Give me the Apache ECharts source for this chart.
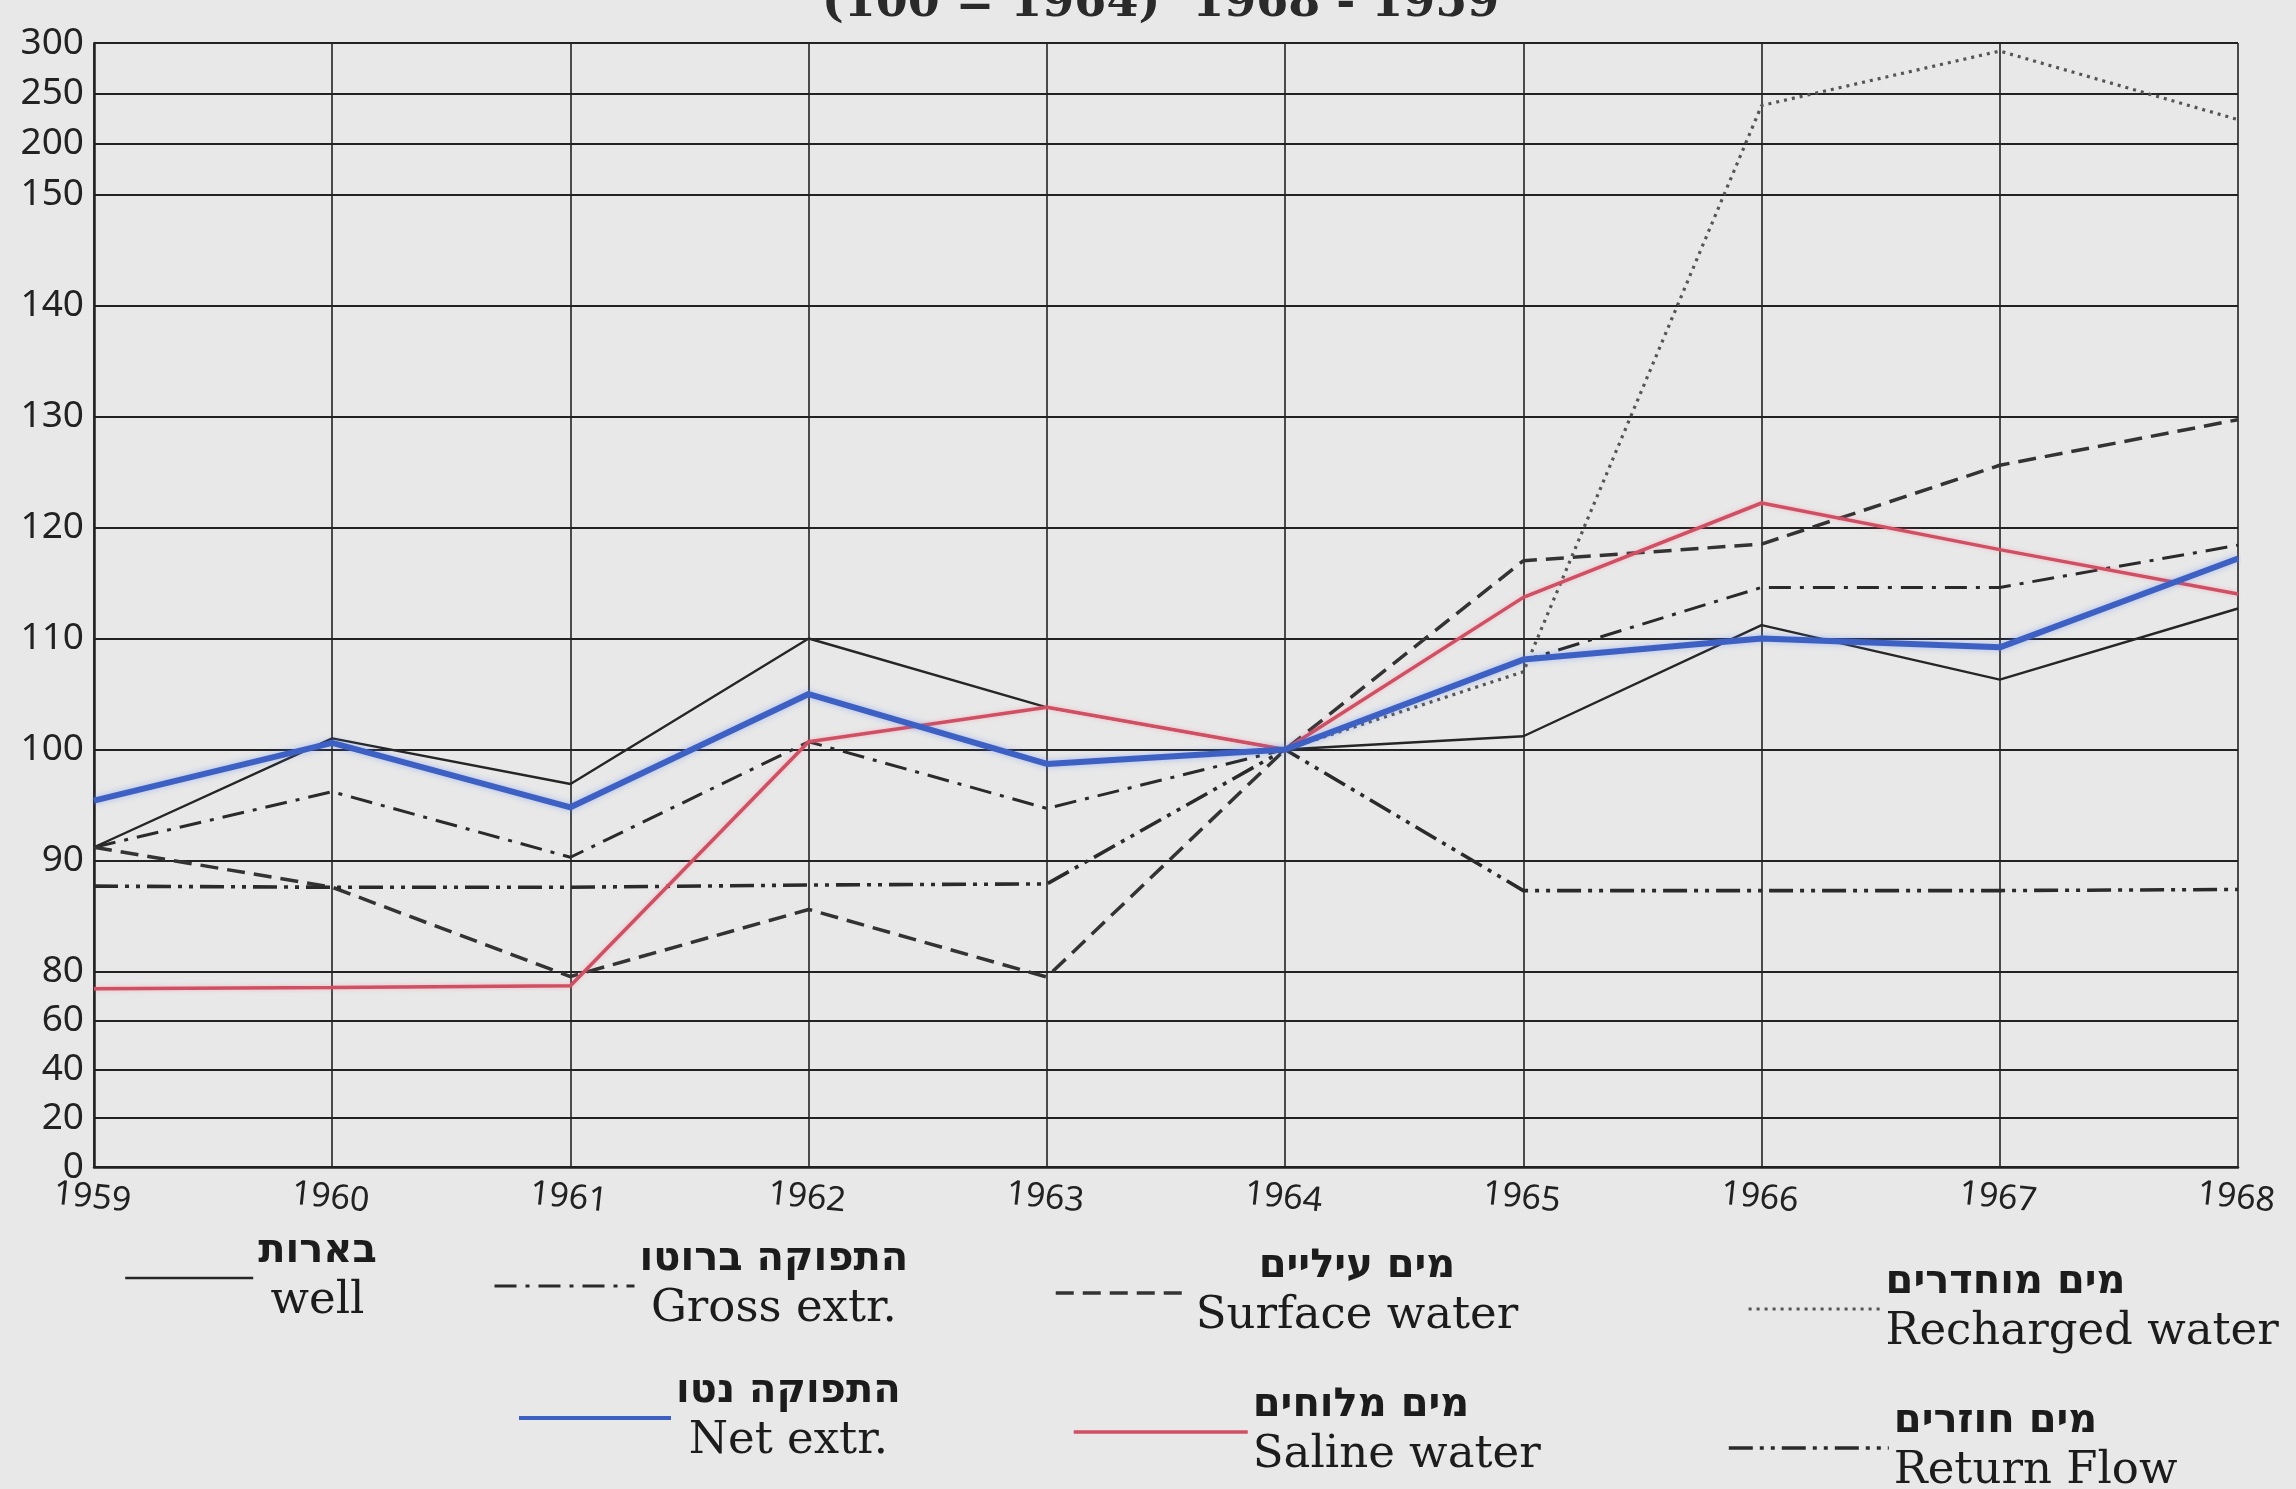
<!DOCTYPE html>
<html>
<head>
<meta charset="utf-8">
<script src="https://cdn.jsdelivr.net/npm/echarts@6/dist/echarts.min.js"></script>
<style>
html,body{margin:0;padding:0;background:#e8e8e8;}
#c{width:2296px;height:1489px;}
</style>
</head>
<body>
<div id="c"></div>
<script>
// ---------- data (index, 1964 = 100) ----------
const years = ['1959','1960','1961','1962','1963','1964','1965','1966','1967','1968'];
const well           = [91.2, 101.0, 96.9, 110.0, 103.8, 100, 101.2, 111.2, 106.3, 112.7];
const grossExtr      = [91.2, 96.2, 90.3, 100.7, 94.7, 100, 108.0, 114.6, 114.6, 118.4];
const surfaceWater   = [91.2, 87.6, 78.0, 85.6, 77.8, 100, 117.0, 118.5, 125.6, 129.7];
const rechargedWater = [null, null, null, null, null, 100, 107.0, 238, 292, 224];
const netExtr        = [95.4, 100.6, 94.8, 105.0, 98.7, 100, 108.1, 110.0, 109.2, 117.2];
const salineWater    = [73.0, 73.5, 74.2, 100.7, 103.8, 100, 113.7, 122.2, 118.0, 114.0];
const returnFlow     = [87.7, 87.6, 87.6, 87.8, 87.9, 100, 87.3, 87.3, 87.3, 87.4];
const yTicks = [0, 20, 40, 60, 80, 90, 100, 110, 120, 130, 140, 150, 200, 250, 300];
const titleText = '(100 = 1964)  1968 - 1959';
const names = ['well', 'Gross extr.', 'Surface water', 'Recharged water', 'Net extr.', 'Saline water', 'Return Flow'];
const hebrew = ['בארות', 'התפוקה ברוטו', 'מים עיליים', 'מים מוחדרים', 'התפוקה נטו', 'מים מלוחים', 'מים חוזרים'];

// ---------- broken (piecewise) value scale of the original drawing ----------
const breakVals = [0, 80, 150, 300];
const breakPos  = [0, 195, 971, 1122];
function toPos(v) {
  if (v === null || v === undefined) return null;
  for (let i = 1; i < breakVals.length; i++) {
    if (v <= breakVals[i] || i === breakVals.length - 1) {
      const t = (v - breakVals[i-1]) / (breakVals[i] - breakVals[i-1]);
      return breakPos[i-1] + t * (breakPos[i] - breakPos[i-1]);
    }
  }
}
const yTickPos = yTicks.map(toPos);
function labelFor(p) {
  for (let i = 0; i < yTickPos.length; i++) if (Math.abs(yTickPos[i] - p) < 0.01) return String(yTicks[i]);
  return '';
}

const INK = '#222';
const styles = {
  'well':            {color: '#262626', width: 2.4, type: 'solid'},
  'Gross extr.':     {color: '#2a2a2a', width: 3,   type: [22, 9, 4, 9]},
  'Surface water':   {color: '#333333', width: 3.5, type: [18, 9]},
  'Recharged water': {color: '#555555', width: 3.2, type: [3, 5]},
  'Net extr.':       {color: '#3d60c4', width: 6,   type: 'solid', shadowColor: 'rgba(90,130,230,0.45)', shadowBlur: 6},
  'Saline water':    {color: '#d24e62', width: 3.5, type: 'solid', shadowColor: 'rgba(230,120,140,0.4)', shadowBlur: 4},
  'Return Flow':     {color: '#2a2a2a', width: 3.6, type: [24, 7, 4, 7, 4, 7]}
};
const seriesData = [well, grossExtr, surfaceWater, rechargedWater, netExtr, salineWater, returnFlow];

const series = names.map((n, i) => ({
  name: n,
  type: 'line',
  data: seriesData[i].map(toPos),
  symbol: 'none',
  connectNulls: false,
  z: n === 'Net extr.' ? 5 : (n === 'Saline water' ? 4 : 3),
  lineStyle: Object.assign({cap: 'butt'}, styles[n]),
  itemStyle: {color: styles[n].color},
  emphasis: {disabled: true},
  animation: false
}));

// legend placement (one legend block per series, as in the original two-row key)
const legendPlace = [
  {left: 124,  top: 1232, w: 128, align: 'center'},
  {left: 493,  top: 1240, w: 140, align: 'center'},
  {left: 1054, top: 1247, w: 135, align: 'center'},
  {left: 1747, top: 1263, w: 132, align: 'left'},
  {left: 517,  top: 1372, w: 152, align: 'center'},
  {left: 1072, top: 1386, w: 174, align: 'left'},
  {left: 1727, top: 1402, w: 160, align: 'left'}
];
const legends = names.map((n, i) => ({
  data: [n],
  left: legendPlace[i].left,
  top: legendPlace[i].top,
  itemWidth: legendPlace[i].w,
  itemHeight: 20,
  padding: 0,
  selectedMode: false,
  itemStyle: {color: 'rgba(0,0,0,0)', borderColor: 'rgba(0,0,0,0)', borderWidth: 0},
  lineStyle: {width: Math.min(styles[n].width, 4), type: styles[n].type, color: styles[n].color},
  formatter: () => '{h|' + hebrew[i] + '}\n{e|' + n + '}',
  textStyle: {
    rich: {
      h: {fontFamily: 'DejaVu Sans', fontWeight: 'bold', fontSize: 40, lineHeight: 46, align: legendPlace[i].align, color: '#1c1c1c'},
      e: {fontFamily: 'DejaVu Serif', fontSize: 45, lineHeight: 52, align: legendPlace[i].align, color: '#1c1c1c'}
    }
  }
}));

const chart = echarts.init(document.getElementById('c'), null, {renderer: 'canvas'});
chart.setOption({
  backgroundColor: '#e8e8e8',
  animation: false,
  title: {
    text: titleText,
    left: 822,
    top: -19,
    padding: 0,
    textStyle: {fontFamily: 'DejaVu Serif', fontWeight: 'bold', fontSize: 46, color: '#2a2a2a'}
  },
  legend: legends,
  grid: {left: 94, right: 58, top: 43, bottom: 322, containLabel: false, outerBoundsMode: 'none'},
  xAxis: {
    type: 'category',
    data: years,
    boundaryGap: false,
    axisLine: {show: true, lineStyle: {color: INK, width: 2.5}},
    axisTick: {show: false},
    splitLine: {show: true, lineStyle: {color: INK, width: 1.6}},
    axisLabel: {
      fontFamily: 'Noto Sans', fontSize: 34, color: INK, margin: 14, rotate: -6,
      align: 'center', verticalAlign: 'top', interval: 0
    }
  },
  yAxis: {
    type: 'value',
    min: 0,
    max: breakPos[breakPos.length - 1],
    axisLine: {show: true, lineStyle: {color: INK, width: 2.5}},
    axisTick: {show: false, customValues: yTickPos},
    splitLine: {show: true, lineStyle: {color: INK, width: 2.2}},
    axisLabel: {
      customValues: yTickPos,
      formatter: labelFor,
      fontFamily: 'Noto Sans', fontSize: 37, color: INK, margin: 10
    }
  },
  series: series
});
</script>
</body>
</html>
